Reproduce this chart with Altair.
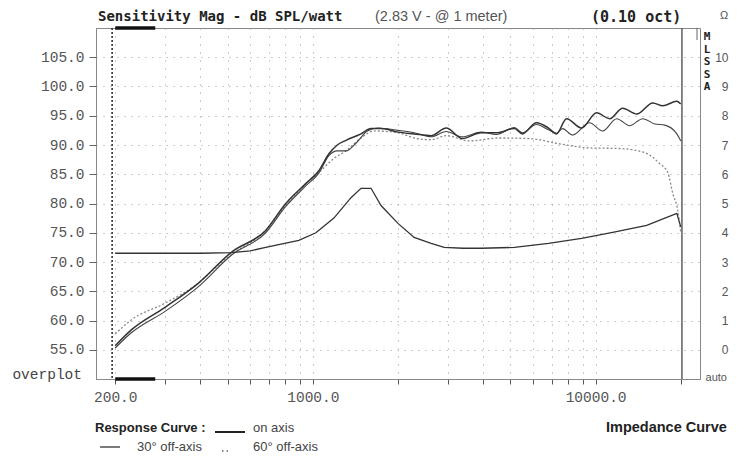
import altair as alt
import pandas as pd

# ---------------- data ----------------
on_freq = [200, 228, 301, 394, 516, 681, 802, 944, 1050, 1140, 1220, 1310, 1480, 1606, 1742, 2000,
           2281, 2620, 2962, 3376, 3942, 4456, 5161, 5509, 6175, 6814, 7273, 7890, 8920, 10080,
           11210, 12460, 13980, 15930, 17280, 19380, 20000]
on_db = [55.7, 58.4, 62.3, 66.4, 71.7, 75.4, 80.0, 83.4, 85.6, 88.5, 90.0, 90.8, 91.9, 92.8, 92.8, 92.2,
         91.9, 91.6, 92.9, 91.1, 92.1, 92.1, 92.8, 91.9, 93.8, 92.9, 91.9, 94.5, 92.9, 95.5,
         94.5, 96.3, 95.3, 97.2, 96.7, 97.5, 97.0]

off30_freq = [200, 228, 301, 394, 516, 681, 802, 944, 1050, 1140, 1217, 1310, 1420, 1560, 1700, 2000,
              2281, 2620, 2962, 3376, 3942, 4456, 5161, 5509, 6175, 6814, 7273, 7640, 8290, 9520,
              10590, 11870, 13200, 14680, 16190, 17570, 19380, 20000]
off30_db = [55.3, 57.9, 61.6, 65.8, 71.2, 75.0, 79.5, 83.0, 85.2, 88.2, 89.0, 89.0, 90.3, 92.4, 92.9, 92.5,
            92.1, 91.4, 92.3, 91.4, 92.2, 91.8, 93.0, 92.1, 93.5, 92.6, 92.0, 92.8, 91.7, 93.8,
            92.4, 94.5, 93.3, 94.5, 93.6, 93.4, 91.9, 90.7]

off60_freq = [200, 228, 301, 394, 464, 516, 681, 802, 944, 1050, 1187, 1310, 1480, 1646, 2000, 2281,
              2620, 2962, 3573, 4566, 5834, 7455, 9520, 12160, 14920, 16870, 18000, 18750, 19540, 20000]
off60_db = [57.7, 60.1, 63.0, 66.4, 69.5, 71.3, 75.4, 79.7, 83.4, 85.3, 87.7, 89.0, 91.2, 92.4, 92.1, 91.2,
            90.9, 91.6, 90.7, 91.2, 91.1, 90.2, 89.5, 89.4, 88.7, 86.8, 85.3, 81.7, 78.8, 75.1]

imp_freq = [200, 300, 400, 516, 600, 681, 892, 1025, 1187, 1364, 1480, 1606, 1742, 2000, 2281, 2620,
            2913, 3400, 3942, 5161, 6814, 8920, 11490, 15160, 19380, 20000]
imp_ohm = [3.30, 3.30, 3.30, 3.32, 3.38, 3.50, 3.74, 4.00, 4.50, 5.20, 5.52, 5.52, 4.93, 4.32, 3.84, 3.64,
           3.50, 3.47, 3.47, 3.50, 3.64, 3.81, 4.01, 4.25, 4.66, 4.20]

x_ticks = [200, 300, 400, 500, 600, 700, 800, 900, 1000, 2000, 3000, 4000, 5000, 6000, 7000, 8000,
           9000, 10000, 20000]
x_labeled = [200, 1000, 10000]
y_ticks = [55, 60, 65, 70, 75, 80, 85, 90, 95, 100, 105]
ohm_ticks = [0, 1, 2, 3, 4, 5, 6, 7, 8, 9, 10]

# ---------------- layout ----------------
W, H = 604, 351
MONO = "Liberation Mono"
BMONO = "DejaVu Sans Mono"
SANS = "Liberation Sans"

xscale = alt.Scale(type="log", domain=[171, 23400], nice=False)
yscale = alt.Scale(domain=[50, 110], nice=False, zero=False)
oscale = alt.Scale(domain=[-1, 11], nice=False, zero=False)

label_test = " || ".join(f"datum.value == {v}" for v in x_labeled)
xaxis = alt.Axis(values=x_ticks, labelExpr=f"({label_test}) ? format(datum.value, '.1f') : ''",
                 tickSize=5, tickColor="#555", domainColor="#888", labelFont=MONO, labelFontSize=14.5,
                 labelColor="#555", labelPadding=6, grid=True, gridColor="#999", gridDash=[1, 7],
                 title=None, labelFlush=False, labelOverlap=False)
yaxis = alt.Axis(values=y_ticks, format=".1f", tickSize=7, tickColor="#666", domainColor="#888",
                 labelFont=MONO, labelFontSize=14.5, labelColor="#555", labelPadding=5, grid=True,
                 gridColor="#999", gridDash=[1, 6], title=None)
oaxis = alt.Axis(orient="right", values=ohm_ticks, format="d", tickSize=0, domain=False, labelPadding=28,
                 labelFont=SANS, labelFontSize=12, labelColor="#555", grid=False, title=None,
                 labelAlign="right")

dummy = pd.DataFrame({"d": [0]})


def curve(freq, vals, color, width, dash=None, interp="monotone"):
    df = pd.DataFrame({"f": freq, "v": vals})
    mk = dict(color=color, strokeWidth=width, interpolate=interp, clip=True)
    if dash:
        mk["strokeDash"] = dash
    return alt.Chart(df).mark_line(**mk).encode(
        x=alt.X("f:Q", scale=xscale, axis=xaxis),
        y=alt.Y("v:Q", scale=yscale, axis=yaxis))


def txt(s, px, py, font=SANS, size=12, weight="normal", color="#333", align="left"):
    return alt.Chart(dummy).mark_text(text=s, font=font, fontSize=size, fontWeight=weight, color=color,
                                      align=align, baseline="middle").encode(
        x=alt.value(px), y=alt.value(py))


def prule(x1, x2, y1, y2, color="#333", width=1.0, dash=None):
    mk = dict(color=color, strokeWidth=width)
    if dash:
        mk["strokeDash"] = dash
    return alt.Chart(dummy).mark_rule(**mk).encode(
        x=alt.value(x1), x2=alt.value(x2), y=alt.value(y1), y2=alt.value(y2))


# markers in data space
cursor = pd.DataFrame({"f": [195]})
bars = pd.DataFrame({"f": [200, 200], "f2": [277, 277], "v": [110, 50]})
end_line = pd.DataFrame({"f": [20200]})

cursor_rule = alt.Chart(cursor).mark_rule(color="#333", strokeWidth=1.6, strokeDash=[2, 2]).encode(
    x=alt.X("f:Q", scale=xscale, axis=xaxis))
end_rule = alt.Chart(end_line).mark_rule(color="#555", strokeWidth=1.4).encode(
    x=alt.X("f:Q", scale=xscale, axis=xaxis))
bar_rules = alt.Chart(bars).mark_rule(color="#111", strokeWidth=3.5).encode(
    x=alt.X("f:Q", scale=xscale, axis=xaxis), x2="f2:Q",
    y=alt.Y("v:Q", scale=yscale, axis=yaxis))

left = alt.layer(
    cursor_rule, end_rule,
    curve(off60_freq, off60_db, "#888", 1.3, dash=[2, 2]),
    curve(off30_freq, off30_db, "#444", 1.1),
    curve(on_freq, on_db, "#333", 1.5),
    bar_rules,
    # header
    txt("Sensitivity Mag - dB SPL/watt", 2, -11, font=BMONO, size=14, weight="bold", color="#222"),
    txt("(2.83 V - @ 1 meter)", 279, -11, size=14.5, color="#555"),
    txt("(0.10 oct)", 495, -11, font=BMONO, size=15, weight="bold", color="#222"),
    # right side decorations
    prule(601, 601, 0, 12, color="#666"),
    txt("M", 611, 9, font=BMONO, size=11, weight="bold", color="#222", align="center"),
    txt("L", 611, 21.5, font=BMONO, size=11, weight="bold", color="#222", align="center"),
    txt("S", 611, 34, font=BMONO, size=11, weight="bold", color="#222", align="center"),
    txt("S", 611, 46.5, font=BMONO, size=11, weight="bold", color="#222", align="center"),
    txt("A", 611, 59, font=BMONO, size=11, weight="bold", color="#222", align="center"),
    txt("Ω", 628, -12, size=11, color="#555", align="center"),
    txt("auto", 631, 350, size=11, color="#555", align="right"),
    txt("overplot", -14, 347, font=MONO, size=14.5, color="#444", align="right"),
    # legend
    txt("Response Curve :", -1, 400, size=13, weight="bold", color="#222"),
    prule(119, 149, 404, 404, color="#222", width=2),
    txt("on axis", 157, 400, size=13, color="#444"),
    prule(4, 24, 419, 419, color="#333", width=1.3),
    txt("30° off-axis", 41, 419, size=13, color="#444"),
    prule(126, 135, 423, 423, color="#666", width=1.5, dash=[1.5, 3]),
    txt("60° off-axis", 157, 419, size=13, color="#444"),
    txt("Impedance Curve", 510, 400, size=14.5, weight="bold", color="#222"),
)

imp_df = pd.DataFrame({"f": imp_freq, "ohm": imp_ohm})
right = alt.Chart(imp_df).mark_line(color="#333", strokeWidth=1.3, clip=True).encode(
    x=alt.X("f:Q", scale=xscale, axis=xaxis),
    y=alt.Y("ohm:Q", scale=oscale, axis=oaxis))

chart = alt.layer(left, right).resolve_scale(y="independent").properties(
    width=W, height=H,
    autosize=alt.AutoSizeParams(type="none"),
    padding={"left": 88, "top": 20, "right": 29, "bottom": 75},
    background="white",
).configure_view(stroke="#888", strokeWidth=1)

chart.save("out.html", embed_options={"renderer": "svg", "actions": False})
